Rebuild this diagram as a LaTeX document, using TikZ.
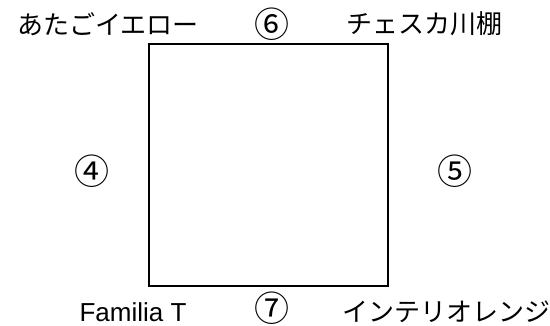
\documentclass[tikz,border=0pt]{standalone}
\usepackage{fontspec}
\setmainfont{Noto Sans CJK JP}
\newfontfamily\latinfont{Liberation Sans}
\begin{document}
\begin{tikzpicture}[x=1pt,y=-1pt,
  lbl/.style={inner sep=0pt,font=\fontsize{26}{28}\selectfont,text=black},
  num/.style={inner sep=0pt,font=\fontsize{35}{37}\selectfont,text=black},
  boxline/.style={draw=black,line width=1.3pt}]
\useasboundingbox (0,0) rectangle (550,326);
\coordinate (tl) at (149,44);
\coordinate (br) at (388,286);
\draw[boxline] (tl) rectangle (br);
\node[lbl] (a) at (108,24) {あたごイエロー};
\node[num] (six) at (272,24) {⑥};
\node[lbl] (c) at (424,24) {チェスカ川棚};
\node[num] (four) at (92,171) {④};
\node[num] (five) at (455,171) {⑤};
\node[lbl] (f) at (133,312) {\latinfont Familia T};
\node[num] (seven) at (272,308) {⑦};
\node[lbl] (i) at (446,312) {インテリオレンジ};
\end{tikzpicture}
\end{document}
